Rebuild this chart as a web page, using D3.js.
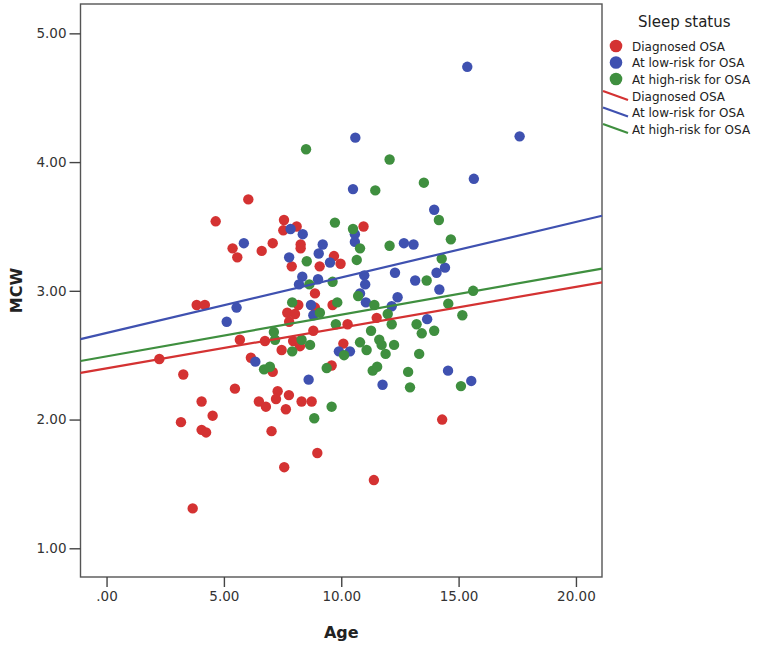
<!DOCTYPE html>
<html>
<head>
<meta charset="utf-8">
<script src="https://cdn.jsdelivr.net/npm/d3@7/dist/d3.min.js"></script>
<style>
  html, body { margin: 0; padding: 0; background: #ffffff; }
  svg { display: block; font-family: "DejaVu Sans", sans-serif; }
</style>
</head>
<body>
<svg id="chart" width="773" height="645"></svg>
<script>
// ---- Data ----
const groups = ["Diagnosed OSA", "At low-risk for OSA", "At high-risk for OSA"];
const groupColors = ["#d43232", "#3f51b0", "#3f8f3f"];

const redAge = [6.04,4.65,5.37,5.57,6.61,7.08,7.56,7.53,8.10,10.95,8.27,8.27,9.69,9.97,7.89,9.08,8.88,8.17,8.88,9.63,7.70,8.03,7.78,11.51,10.27,8.81,6.75,7.95,8.24,7.46,10.09,9.59,7.08,7.29,7.22,7.77,6.49,6.79,8.31,8.74,7.64,7.03,8.98,7.57,11.39,14.30,3.84,4.19,5.68,2.25,6.15,3.27,5.47,4.05,4.52,3.17,4.05,4.24,3.67];
const redMCW = [3.71,3.54,3.33,3.26,3.31,3.37,3.55,3.47,3.50,3.50,3.36,3.33,3.27,3.21,3.19,3.19,2.98,2.89,2.87,2.89,2.83,2.82,2.76,2.79,2.74,2.69,2.61,2.61,2.57,2.54,2.59,2.42,2.37,2.22,2.16,2.19,2.14,2.10,2.14,2.14,2.08,1.91,1.74,1.63,1.53,2.00,2.89,2.89,2.62,2.47,2.48,2.35,2.24,2.14,2.03,1.98,1.92,1.90,1.31];

const blueAge = [5.85,10.60,10.50,7.84,8.36,10.58,10.58,9.21,12.67,13.08,7.78,9.04,9.52,8.34,8.20,9.01,10.98,11.02,12.29,13.15,10.80,12.40,15.37,17.60,15.65,13.96,14.42,14.06,14.18,5.54,5.12,6.34,8.71,11.05,12.15,8.81,9.90,10.37,8.61,11.76,13.66,14.55,15.54];
const blueMCW = [3.37,4.19,3.79,3.48,3.44,3.44,3.38,3.36,3.37,3.36,3.26,3.29,3.22,3.11,3.05,3.09,3.12,3.05,3.14,3.08,2.98,2.95,4.74,4.20,3.87,3.63,3.18,3.14,3.01,2.87,2.76,2.45,2.89,2.91,2.88,2.81,2.53,2.53,2.31,2.27,2.78,2.38,2.30];

const greenAge = [8.50,12.06,13.52,11.45,9.73,10.50,10.80,12.06,8.53,10.66,8.64,9.63,13.64,10.72,14.16,14.67,14.28,15.62,6.71,7.91,9.83,11.41,9.09,11.98,9.77,12.15,13.21,11.27,13.43,7.13,7.18,8.31,11.62,11.72,8.67,10.80,11.08,12.25,7.91,10.12,11.89,13.32,9.38,6.96,11.34,11.53,12.85,12.93,9.59,8.85,14.56,15.16,13.96,15.10];
const greenMCW = [4.10,4.02,3.84,3.78,3.53,3.48,3.33,3.35,3.23,3.24,3.05,3.07,3.08,2.96,3.55,3.40,3.25,3.00,2.39,2.91,2.91,2.89,2.83,2.82,2.74,2.74,2.74,2.69,2.67,2.68,2.62,2.62,2.62,2.58,2.58,2.60,2.54,2.58,2.53,2.50,2.51,2.51,2.40,2.41,2.38,2.41,2.37,2.25,2.10,2.01,2.90,2.81,2.69,2.26];

// Fit lines (intercept, slope) per group
const fitIntercepts = [2.398, 2.673, 2.491];
const fitSlopes = [0.0316, 0.0431, 0.0323];

const xTicks = [0, 5, 10, 15, 20];
const yTicks = [1, 2, 3, 4, 5];
const xTitle = "Age";
const yTitle = "MCW";
const legendTitle = "Sleep status";

// ---- Layout ----
const svg = d3.select("#chart");
const pLeft = 80.5, pRight = 602, pTop = 4, pBottom = 577;

const x = d3.scaleLinear().domain([-1.11, 21.11]).range([pLeft, pRight]);
const y = d3.scaleLinear().domain([0.777, 5.228]).range([pBottom, pTop]);

const fmt = v => { const s = v.toFixed(2); return s.startsWith("0") ? s.slice(1) : s; };

// frame
svg.append("rect")
  .attr("x", pLeft).attr("y", pTop)
  .attr("width", pRight - pLeft).attr("height", pBottom - pTop)
  .attr("fill", "none").attr("stroke", "#555").attr("stroke-width", 1.4);

// axes
const xAxis = d3.axisBottom(x).tickValues(xTicks).tickFormat(fmt).tickSizeOuter(0).tickSize(10).tickPadding(4);
const gx = svg.append("g").attr("transform", `translate(0,${pBottom})`).call(xAxis);
gx.select(".domain").remove();
gx.selectAll("line").attr("stroke", "#444").attr("stroke-width", 1.4);
gx.selectAll("text").attr("fill", "#333").style("font-size", "13.5px").style("font-family", "DejaVu Sans, sans-serif");

const yAxis = d3.axisLeft(y).tickValues(yTicks).tickFormat(fmt).tickSizeOuter(0).tickSize(11).tickPadding(3);
const gy = svg.append("g").attr("transform", `translate(${pLeft},0)`).call(yAxis);
gy.select(".domain").remove();
gy.selectAll("line").attr("stroke", "#444").attr("stroke-width", 1.4);
gy.selectAll("text").attr("fill", "#333").style("font-size", "13.5px").style("font-family", "DejaVu Sans, sans-serif");

// axis titles
svg.append("text").attr("x", (pLeft + pRight) / 2).attr("y", 638)
  .attr("text-anchor", "middle").attr("fill", "#222")
  .style("font-size", "16px").style("font-weight", "bold").text(xTitle);
svg.append("text").attr("transform", `translate(22,${(pTop + pBottom) / 2}) rotate(-90)`)
  .attr("text-anchor", "middle").attr("fill", "#222")
  .style("font-size", "16px").style("font-weight", "bold").text(yTitle);

// points
const series = [
  { ages: redAge, mcw: redMCW, color: groupColors[0] },
  { ages: blueAge, mcw: blueMCW, color: groupColors[1] },
  { ages: greenAge, mcw: greenMCW, color: groupColors[2] }
];
const plot = svg.append("g");
series.forEach(s => {
  const pts = s.ages.map((a, i) => [a, s.mcw[i]]);
  plot.selectAll(null).data(pts).enter().append("circle")
    .attr("cx", d => x(d[0])).attr("cy", d => y(d[1]))
    .attr("r", 5.2).attr("fill", s.color);
});

// fit lines
const xd = x.domain();
fitIntercepts.forEach((b, i) => {
  const m = fitSlopes[i];
  const line = d3.line().x(d => x(d)).y(d => y(b + m * d));
  svg.append("path").datum(xd).attr("d", line)
    .attr("fill", "none").attr("stroke", groupColors[i]).attr("stroke-width", 2.2);
});

// legend
const lg = svg.append("g");
lg.append("text").attr("x", 638).attr("y", 27).attr("fill", "#222")
  .style("font-size", "15px").text(legendTitle);
groups.forEach((g, i) => {
  const cy = 46 + i * 16.5;
  lg.append("circle").attr("cx", 616).attr("cy", cy).attr("r", 6.3).attr("fill", groupColors[i]);
  lg.append("text").attr("x", 632).attr("y", cy + 4.5).attr("fill", "#222")
    .style("font-size", "12px").text(g);
});
groups.forEach((g, i) => {
  const cy = 96 + i * 16.5;
  lg.append("line").attr("x1", 603).attr("y1", cy - 5).attr("x2", 628).attr("y2", cy + 4)
    .attr("stroke", groupColors[i]).attr("stroke-width", 2.2);
  lg.append("text").attr("x", 632).attr("y", cy + 4.5).attr("fill", "#222")
    .style("font-size", "12px").text(g);
});
</script>
</body>
</html>
